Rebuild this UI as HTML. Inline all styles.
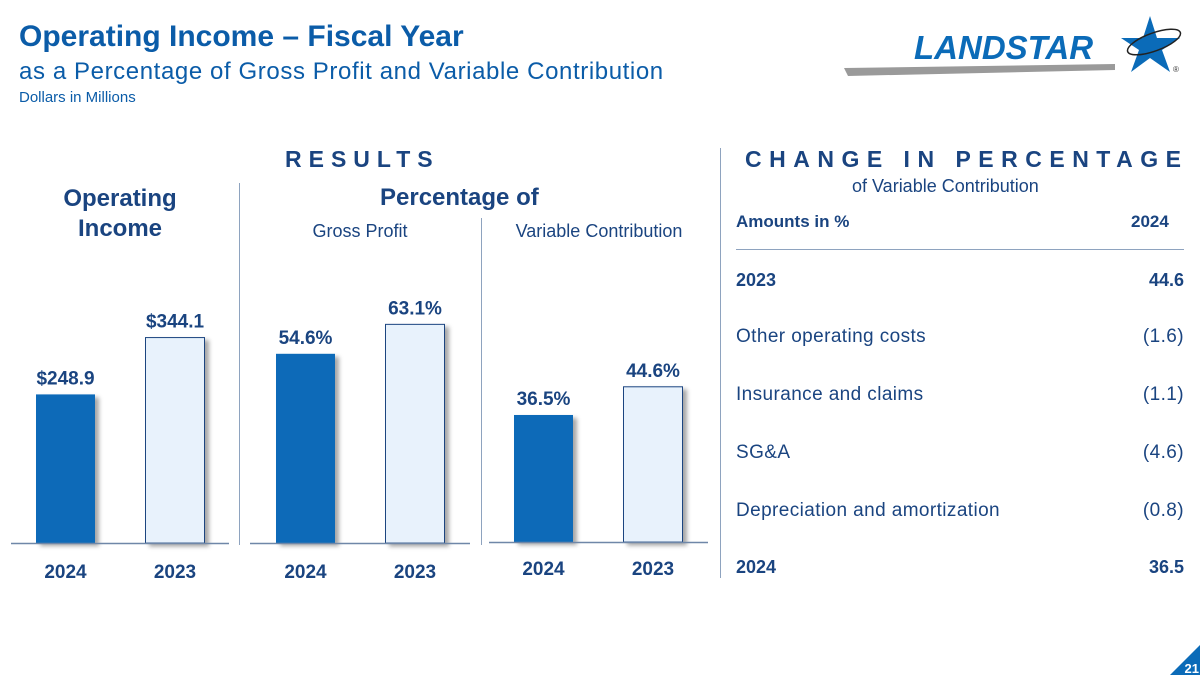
<!DOCTYPE html>
<html><head><meta charset="utf-8"><style>
body{margin:0;width:1200px;height:675px;background:#fff;overflow:hidden;font-family:"Liberation Sans",sans-serif;position:relative}
.a{position:absolute;white-space:nowrap}
.r{font-size:19px;color:#1a4480;letter-spacing:0.4px}
</style></head><body>
<div class="a" style="left:19px;top:20px;font-size:30px;font-weight:bold;color:#0b5ca8">Operating Income – Fiscal Year</div>
<div class="a" style="left:19px;top:58px;font-size:24px;letter-spacing:0.6px;color:#0b5ca8">as a Percentage of Gross Profit and Variable Contribution</div>
<div class="a" style="left:19px;top:89px;font-size:15px;color:#0b5ca8">Dollars in Millions</div>

<svg class="a" style="left:840px;top:12px" width="360" height="70">
<polygon points="4,56 275,52 275,58 8,64" fill="#9a9a9a"/>
<text x="74" y="47" font-family="Liberation Sans" font-weight="bold" font-style="italic" font-size="33" fill="#0b6bb8">LANDSTAR</text>
<polygon points="310,4 317,26 340,26 322,38 330,60 310,46 291,60 299,38 281,26 303,26" fill="#0b6bb8"/>
<ellipse cx="314" cy="30" rx="28" ry="9" fill="none" stroke="#222" stroke-width="1.5" transform="rotate(-20 314 30)"/>
<text x="333" y="60" font-size="8" fill="#333">®</text>
</svg>

<div class="a" style="left:285px;top:146px;font-size:23px;font-weight:bold;letter-spacing:7px;color:#1a4480">RESULTS</div>
<div class="a" style="left:745px;top:146px;font-size:23px;font-weight:bold;letter-spacing:7.5px;color:#1a4480">CHANGE IN PERCENTAGE</div>
<div class="a" style="left:852px;top:176px;font-size:18px;color:#1a4480">of Variable Contribution</div>

<div class="a" style="left:30px;top:184px;width:180px;text-align:center;font-size:24px;font-weight:bold;line-height:30px;color:#1a4480">Operating<br>Income</div>
<div class="a" style="left:380px;top:184px;width:200px;font-size:24px;font-weight:bold;color:#1a4480">Percentage of</div>
<div class="a" style="left:250px;top:221px;width:220px;text-align:center;font-size:18px;color:#1a4480">Gross Profit</div>
<div class="a" style="left:489px;top:221px;width:220px;text-align:center;font-size:18px;color:#1a4480">Variable Contribution</div>

<div class="a" style="left:239px;top:183px;width:1px;height:362px;background:#8ea3bf"></div>
<div class="a" style="left:481px;top:218px;width:1px;height:327px;background:#8ea3bf"></div>
<div class="a" style="left:720px;top:148px;width:1px;height:430px;background:#8ea3bf"></div>

<svg id="chart" class="a" style="left:0;top:0" width="720" height="600">
<defs><filter id="sh" x="-20%" y="-10%" width="150%" height="130%"><feDropShadow dx="4" dy="3" stdDeviation="2" flood-color="#000" flood-opacity="0.35"/></filter></defs>
</svg>

<div class="a" style="left:736px;top:0;width:448px">
<div class="a" style="left:0;top:212px;font-size:17px;font-weight:bold;color:#1a4480">Amounts in %</div>
<div class="a" style="left:395px;top:212px;font-size:17px;font-weight:bold;color:#1a4480">2024</div>
<div class="a" style="left:0;top:249px;width:448px;height:1px;background:#8ea3bf"></div>
<div class="a" style="left:0;top:270px;font-size:18px;font-weight:bold;color:#1a4480">2023</div>
<div class="a" style="right:0;top:270px;font-size:18px;font-weight:bold;color:#1a4480">44.6</div>
<div class="a r" style="left:0;top:326px">Other operating costs</div>
<div class="a r" style="right:0;top:326px">(1.6)</div>
<div class="a r" style="left:0;top:384px">Insurance and claims</div>
<div class="a r" style="right:0;top:384px">(1.1)</div>
<div class="a r" style="left:0;top:442px">SG&amp;A</div>
<div class="a r" style="right:0;top:442px">(4.6)</div>
<div class="a r" style="left:0;top:500px">Depreciation and amortization</div>
<div class="a r" style="right:0;top:500px">(0.8)</div>
<div class="a" style="left:0;top:557px;font-size:18px;font-weight:bold;color:#1a4480">2024</div>
<div class="a" style="right:0;top:557px;font-size:18px;font-weight:bold;color:#1a4480">36.5</div>
</div>

<svg class="a" style="left:1170px;top:645px" width="30" height="30">
<polygon points="30,0 30,30 0,30" fill="#0b6bb8"/>
<text x="29" y="28" text-anchor="end" font-size="13" font-weight="bold" fill="#fff" font-family="Liberation Sans">21</text>
</svg>

<script>
const categories = ["2024", "2023"];
const operatingIncome = [248.9, 344.1];
const grossProfitPct = [54.6, 63.1];
const variableContribPct = [36.5, 44.6];
const opLabels = ["$248.9", "$344.1"];
const gpLabels = ["54.6%", "63.1%"];
const vcLabels = ["36.5%", "44.6%"];

const NS = "http://www.w3.org/2000/svg";
const svg = document.getElementById("chart");
function mk(tag, attrs){const e=document.createElementNS(NS,tag);for(const k in attrs)e.setAttribute(k,attrs[k]);svg.appendChild(e);return e;}
const panels = [
  {vals: operatingIncome, labels: opLabels, x0: 36, base: 543, scale: 0.597, axis:[11,229], labY: 578, name:"operating-income"},
  {vals: grossProfitPct, labels: gpLabels, x0: 276, base: 543, scale: 3.465, axis:[250,470], labY: 578, name:"gross-profit"},
  {vals: variableContribPct, labels: vcLabels, x0: 514, base: 542, scale: 3.48, axis:[489,708], labY: 575, name:"variable-contribution"}
];
panels.forEach(p=>{
  const yv = v => p.base - v*p.scale;
  p.vals.forEach((v,i)=>{
    const x = p.x0 + i*109.5;
    const r = mk("rect",{x:x,y:yv(v),width:59,height:p.base-yv(v),fill:i===0?"#0b6bb8":"#e8f2fc",stroke:i===0?"#0b6bb8":"#1a4480","stroke-width":i===0?0:1,filter:"url(#sh)"});
    
    
    const t = mk("text",{x:x+29.5,y:yv(v)-10,"text-anchor":"middle","font-size":"19","font-weight":"bold",fill:"#1a4480","font-family":"Liberation Sans"});
    t.textContent = p.labels[i];
    
    
    const c = mk("text",{x:x+29.5,y:p.labY,"text-anchor":"middle","font-size":"19","font-weight":"bold",fill:"#1a4480","font-family":"Liberation Sans"});
    c.textContent = categories[i];
    
    
  });
  const l = mk("line",{x1:p.axis[0],x2:p.axis[1],y1:p.base+0.5,y2:p.base+0.5,stroke:"#6f87a8","stroke-width":1.5});
  
  
});
</script>
</body></html>
